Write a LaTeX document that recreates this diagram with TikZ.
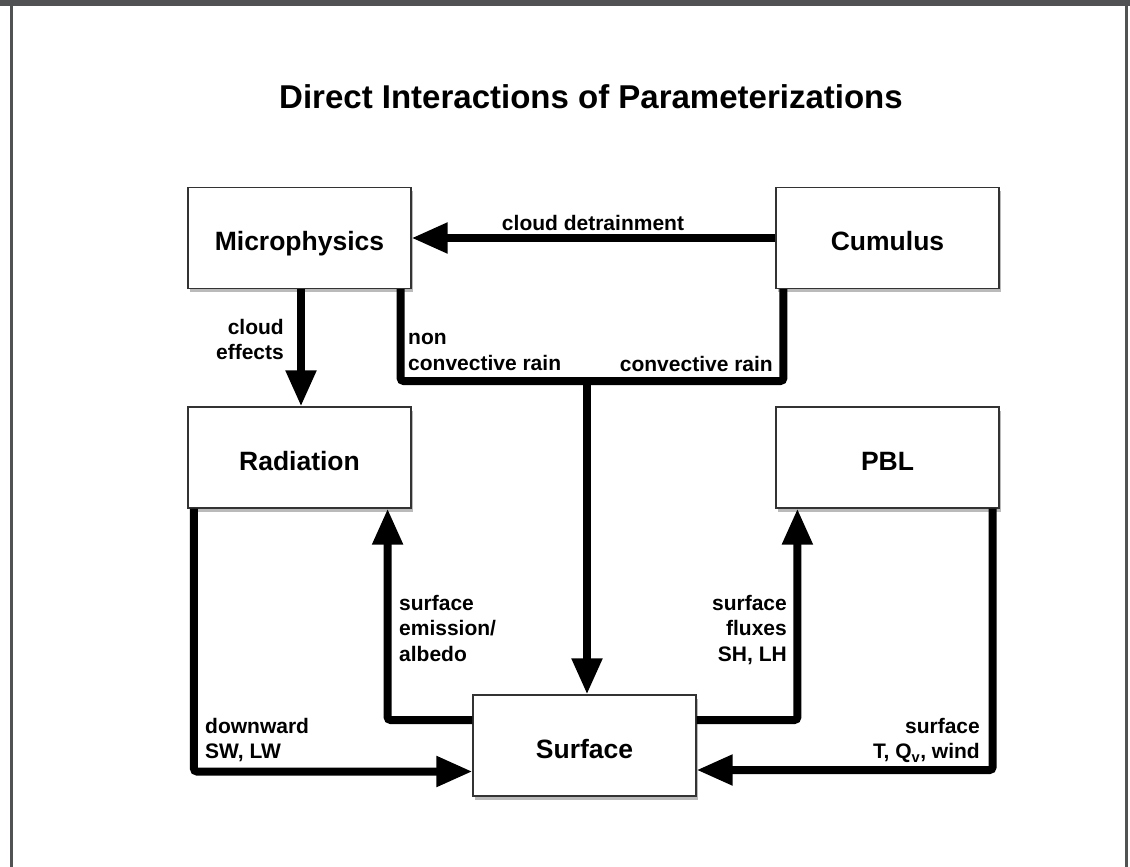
\documentclass[tikz,border=0pt]{standalone}
\usepackage{fontspec}
\setmainfont{Liberation Sans}
\usetikzlibrary{arrows.meta,shadows}
\definecolor{framegray}{HTML}{505254}
\tikzset{
	parambox/.style={draw=black!80, line width=1.2pt, fill=white, minimum width=223pt, minimum height=101pt, inner sep=0pt,
		text height=25pt, text depth=0pt, font=\fontsize{26.5}{31}\selectfont\bfseries,
		drop shadow={shadow xshift=1.5pt, shadow yshift=-3.5pt, fill=black!45, opacity=0.6}},
	link/.style={line width=8pt, rounded corners=3pt},
	flow/.style={link, -{Triangle[length=36pt, width=29pt]}},
	lbl/.style={inner sep=0pt, font=\fontsize{21}{25.5}\selectfont\bfseries}
}
\begin{document}
\begin{tikzpicture}[x=1pt, y=-1pt]
			%%%%% START %%%%%
			\useasboundingbox (0, 0) rectangle (1130, 867);
			\fill[white] (0, 0) rectangle (1130, 867);
			
			% page frame
			\fill[framegray] (0, 0) rectangle (1130, 6);
			\fill[framegray] (10, 0) rectangle (13, 867);
			\fill[framegray] (1125, 0) rectangle (1128, 867);
			
			\node[inner sep=0pt, font=\fontsize{33}{40}\selectfont\bfseries, anchor=base] (title) at (591, 108) {Direct Interactions of Parameterizations};
			
			% boxes
			\node[parambox] (micro) at (299.5, 238) {Microphysics};
			\node[parambox] (cumulus) at (887.5, 238) {Cumulus};
			\node[parambox] (radiation) at (299.5, 457.5) {Radiation};
			\node[parambox] (pbl) at (887.5, 457.5) {PBL};
			\node[parambox] (surface) at (584.5, 745.5) {Surface};
			
			% connectors
			\draw[flow] (cumulus.west) -- (micro.east);
			\draw[flow] ([xshift=1.5pt]micro.south) -- ([xshift=1.5pt]radiation.north);
			
			\coordinate (rainjoin) at (587, 381);
			\draw[link] ([xshift=-11pt]micro.south east) |- (rainjoin) -| ([xshift=8pt]cumulus.south west);
			\draw[flow] (rainjoin) -- (rainjoin |- surface.north);
			
			\draw[flow] ([xshift=6.5pt]radiation.south west) |- ([yshift=-26pt]surface.west);
			\draw[flow] ([yshift=25.5pt]surface.west) -| ([xshift=-24pt]radiation.south east);
			\draw[flow] ([yshift=25.5pt]surface.east) -| ([xshift=22pt]pbl.south west);
			\draw[flow] ([xshift=-7pt]pbl.south east) |- ([yshift=-24.5pt]surface.east);
			
			% labels
			\node[lbl, anchor=base] (detrainlbl) at (593, 230) {cloud detrainment};
			\node[lbl, anchor=north east, align=right] (effectslbl) at (284, 319) {cloud\\effects};
			\node[lbl, anchor=north west, align=left] (nonconvlbl) at (408, 333) {non\\convective rain};
			\node[lbl, anchor=base east] (convlbl) at (773, 371) {convective rain};
			\node[lbl, anchor=north west, align=left] (emisslbl) at (399, 595) {surface\\emission/\\albedo};
			\node[lbl, anchor=north east, align=right] (fluxlbl) at (787, 595) {surface\\fluxes\\SH, LH};
			\node[lbl, anchor=north west, align=left] (downlbl) at (205, 718) {downward\\SW, LW};
			\node[lbl, anchor=north east, align=right] (statelbl) at (980, 718) {surface\\T, Q\textsubscript{v}, wind};
			
			%%%%% END %%%%%
\end{tikzpicture}
\end{document}
